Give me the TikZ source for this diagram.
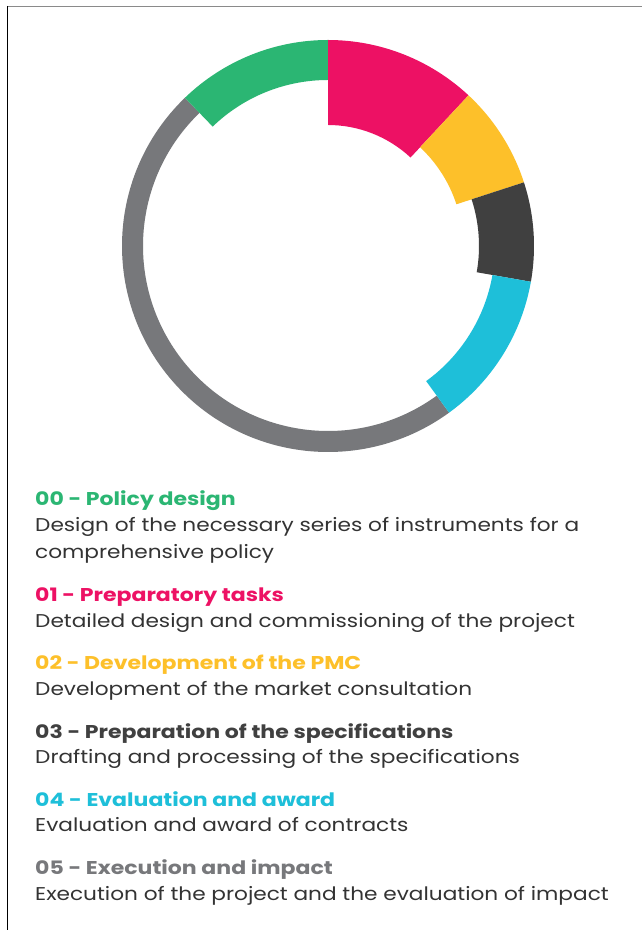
\documentclass[tikz,border=0pt]{standalone}
\usepackage{fontspec}
\setmainfont{Poppins}[FakeStretch=1.17, BoldFeatures={FakeStretch=1.19}]
\definecolor{cgreen}{HTML}{2BB673}
\definecolor{cpink}{HTML}{ED1164}
\definecolor{cyellow}{HTML}{FDC02A}
\definecolor{cdark}{HTML}{404040}
\definecolor{ccyan}{HTML}{1EBFD9}
\definecolor{cgray}{HTML}{77787B}
\definecolor{bodytext}{HTML}{333333}
\definecolor{frametop}{HTML}{8A8A8A}
% annular sector: colour, start angle, end angle, inner radius (outer radius fixed)
\newcommand\ringsector[4]{%
  \fill[#1] (#2:206) arc[start angle=#2, end angle=#3, radius=206]
    -- (#3:#4) arc[start angle=#3, end angle=#2, radius=#4] -- cycle;}
\tikzset{
  head/.style={anchor=base west, inner sep=0pt, font=\fontsize{18.5}{22}\selectfont\bfseries},
  desc/.style={anchor=base west, inner sep=0pt, font=\fontsize{18.5}{22}\selectfont, text=bodytext},
}
\begin{document}
\begin{tikzpicture}[x=1pt,y=1pt]
\useasboundingbox (0,0) rectangle (642,930);
\fill[white] (0,0) rectangle (642,930);
% frame edges
\draw[frametop, line width=1.3pt] (7,923.5) -- (642,923.5);
\draw[black, line width=1pt] (7.5,924) -- (7.5,0);
% segmented ring
\begin{scope}[shift={(328,684)}]
  \ringsector{cgray}{134}{306}{185}
  \ringsector{cgreen}{90}{134}{166}
  \ringsector{cpink}{47}{90}{121}
  \ringsector{cyellow}{18}{47}{135}
  \ringsector{cdark}{-10}{18}{151}
  \ringsector{ccyan}{-54}{-10}{167}
\end{scope}
% legend
\node[head, text=cgreen]  (h0) at (35,424.5) {00 - Policy design};
\node[desc] (d0a) at (35,398) {Design of the necessary series of instruments for a};
\node[desc] (d0b) at (35,371) {comprehensive policy};
\node[head, text=cpink]   (h1) at (35,328.5) {01 - Preparatory tasks};
\node[desc] (d1) at (35,302) {Detailed design and commissioning of the project};
\node[head, text=cyellow] (h2) at (35,260.5) {02 - Development of the PMC};
\node[desc] (d2) at (35,234) {Development of the market consultation};
\node[head, text=cdark]   (h3) at (35,191.5) {03 - Preparation of the specifications};
\node[desc] (d3) at (35,166) {Drafting and processing of the specifications};
\node[head, text=ccyan]   (h4) at (35,123.5) {04 - Evaluation and award};
\node[desc] (d4) at (35,98) {Evaluation and award of contracts};
\node[head, text=cgray]   (h5) at (35,55.5) {05 - Execution and impact};
\node[desc] (d5) at (35,30) {Execution of the project and the evaluation of impact};
\end{tikzpicture}
\end{document}
